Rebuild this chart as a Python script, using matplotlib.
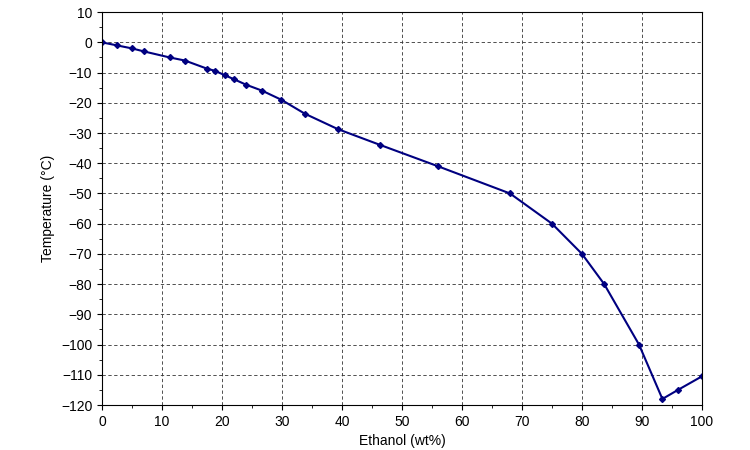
import matplotlib
matplotlib.use("Agg")
import matplotlib.pyplot as plt
from matplotlib.ticker import MultipleLocator

plt.rcParams['font.family'] = ['Liberation Sans', 'DejaVu Sans']

ethanol = [0, 2.5, 5, 7, 11.3, 13.8, 17.5, 18.8, 20.5, 22, 24, 26.7, 29.9, 33.8, 39.3, 46.3, 56, 68, 75, 80, 83.7, 89.5, 93.4, 96, 100]
temp = [0, -1, -2, -3, -5, -6, -8.7, -9.4, -10.9, -12.2, -14, -16, -19, -23.6, -28.7, -33.9, -41, -50, -60, -70, -80, -100, -118, -115, -110.5]

fig = plt.figure(figsize=(7.5, 4.5), dpi=100)
ax = fig.add_axes([0.136, 0.1, 0.8, 0.873])
ax.plot(ethanol, temp, color="#000080", lw=1.5, marker="D", ms=3)
ax.set_xlim(0, 100)
ax.set_ylim(-120, 10)
ax.xaxis.set_major_locator(MultipleLocator(10))
ax.yaxis.set_major_locator(MultipleLocator(10))
ax.xaxis.set_minor_locator(MultipleLocator(5))
ax.yaxis.set_minor_locator(MultipleLocator(5))
ax.grid(True, which="major", color="#333333", ls=(0, (4, 3)), lw=0.6)
ax.tick_params(labelsize=10)
ax.set_xlabel("Ethanol (wt%)", fontsize=10)
ax.set_ylabel("Temperature (°C)", fontsize=10)
fig.savefig("out.png")
